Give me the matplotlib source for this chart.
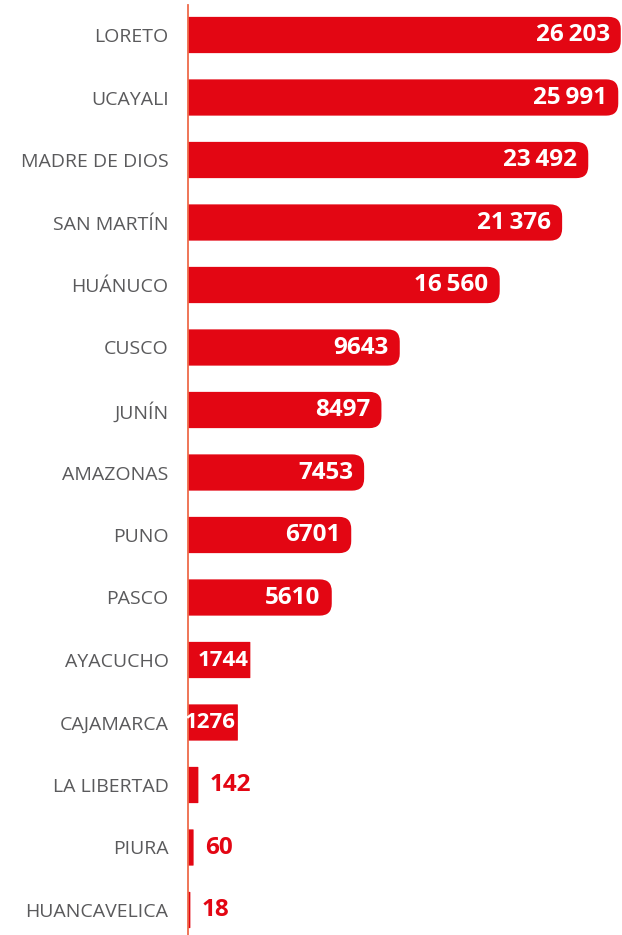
import matplotlib
matplotlib.use("Agg")
import matplotlib.pyplot as plt
import numpy as np
from matplotlib.patches import FancyBboxPatch
from matplotlib.transforms import IdentityTransform

regions = ["LORETO", "UCAYALI", "MADRE DE DIOS", "SAN MARTÍN", "HUÁNUCO", "CUSCO",
           "JUNÍN", "AMAZONAS", "PUNO", "PASCO", "AYACUCHO", "CAJAMARCA",
           "LA LIBERTAD", "PIURA", "HUANCAVELICA"]
values = [26203, 25991, 23492, 21376, 16560, 9643, 8497, 7453, 6701, 5610,
          1744, 1276, 142, 60, 18]

RED = "#E30613"
LINE = "#EE6A4A"
GRAY = "#5A5A5C"
FONT = ["Open Sans", "DejaVu Sans"]

W, H = 622, 935
fig = plt.figure(figsize=(W / 100, H / 100), dpi=100)
ax = fig.add_axes([188 / W, 0, 1 - 188 / W, 930 / H])

p = 0.715
ax.set_xscale("function", functions=(lambda x: np.sign(x) * np.abs(x) ** p,
                                     lambda x: np.sign(x) * np.abs(x) ** (1 / p)))
ax.set_xlim(0, max(values) * 1.004)
n = len(values)
ypos = np.arange(n)
ax.set_ylim(14.4, -0.48)

bh = 0.58
bars = ax.barh(ypos, values, height=bh, color=RED)

# rounded right ends, built from each bar's own extent
for bar in bars:
    x0, y0 = ax.transData.transform((bar.get_x(), bar.get_y()))
    x1, y1 = ax.transData.transform((bar.get_x() + bar.get_width(), bar.get_y() + bar.get_height()))
    ylo, yhi = min(y0, y1), max(y0, y1)
    wpx = x1 - x0
    r = 12 if wpx > 100 else 0.5
    patch = FancyBboxPatch((x0 - r - 2, ylo), wpx + r + 2, yhi - ylo,
                           boxstyle=f"round,pad=0,rounding_size={r}",
                           transform=IdentityTransform(), facecolor=RED,
                           edgecolor="none")
    ax.add_patch(patch)
    bar.set_visible(False)

def fmt(v):
    return f"{v:,}".replace(",", "\u2009") if v >= 10000 else str(v)

VS = 17.5
for i, v in enumerate(values):
    if v >= 5000:
        ax.annotate(fmt(v), xy=(v, i), xytext=(-8, 0), textcoords="offset points",
                    ha="right", va="center", color="white", fontsize=VS,
                    fontweight="bold", family=FONT)
    elif v >= 1000:
        ax.annotate(fmt(v), xy=(v, i), xytext=(-1.5, 0), textcoords="offset points",
                    ha="right", va="center", color="white", fontsize=16,
                    fontweight="bold", family=FONT)
    else:
        ax.annotate(fmt(v), xy=(v, i), xytext=(8, 0), textcoords="offset points",
                    ha="left", va="center", color=RED, fontsize=VS,
                    fontweight="bold", family=FONT)

ax.set_yticks(ypos)
ax.set_yticklabels(regions, family=FONT, fontsize=14, color=GRAY)
ax.tick_params(axis="y", length=0, pad=14)
ax.set_xticks([])
for s in ["top", "right", "bottom"]:
    ax.spines[s].set_visible(False)
ax.spines["left"].set_color(LINE)
ax.spines["left"].set_linewidth(1.3)
ax.patch.set_alpha(0)

fig.savefig("out.png", dpi=100)
